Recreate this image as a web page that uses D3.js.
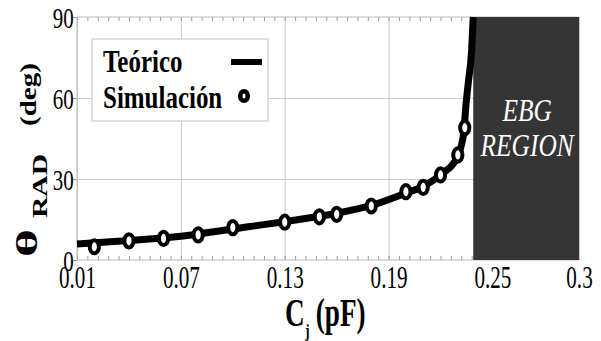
<!DOCTYPE html>
<html>
<head>
<meta charset="utf-8">
<script src="https://cdn.jsdelivr.net/npm/d3@7"></script>
<style>
  body { margin: 0; background: #fff; }
  svg { display: block; font-family: "Liberation Serif", "Times New Roman", serif; }
</style>
</head>
<body>
<div id="chart"></div>
<script>
// capacitance (pF) for the theory curve and for the simulated points
const theoCj = [0.01, 0.04, 0.07, 0.10, 0.13, 0.16, 0.18, 0.20, 0.21, 0.22, 0.23, 0.2336, 0.2345, 0.236, 0.238, 0.2389];
const theoTheta = [5.9, 7.2, 8.8, 11.5, 14.2, 17.3, 20.2, 24.8, 27.3, 31.5, 38.6, 48, 56, 65.4, 78, 90];
const simCj = [0.02, 0.04, 0.06, 0.08, 0.10, 0.13, 0.15, 0.16, 0.18, 0.20, 0.21, 0.22, 0.23, 0.234];
const simTheta = [4.9, 7.1, 8.0, 9.3, 12.0, 14.0, 16.0, 16.9, 20.0, 25.3, 26.9, 31.5, 38.9, 49.0];
const ebgRange = [0.2389, 0.3];
const xTicks = [0.01, 0.07, 0.13, 0.19, 0.25, 0.3];
const xTickLabels = ["0.01", "0.07", "0.13", "0.19", "0.25", "0.3"];
const yTicks = [0, 30, 60, 90];
const legendLabels = ["Teórico", "Simulación"];

const svg = d3.select("#chart").append("svg").attr("width", 601).attr("height", 341);

const x = d3.scaleLinear().domain([0.01, 0.3]).range([77, 579]);
const y = d3.scaleLinear().domain([0, 90]).range([260, 17]);

// grid
svg.append("g")
  .attr("transform", "translate(0,260)")
  .call(d3.axisBottom(x).tickValues(xTicks).tickSize(-243).tickFormat(""))
  .call(g => g.select(".domain").remove())
  .selectAll("line").attr("stroke", "#cacaca");

svg.append("g")
  .attr("transform", "translate(77,0)")
  .call(d3.axisLeft(y).tickValues([30, 60]).tickSize(-502).tickFormat(""))
  .call(g => g.select(".domain").remove())
  .selectAll("line").attr("stroke", "#cacaca");

// minor ticks top & bottom
const minor = d3.range(0, 49).map(i => 0.01 + i * 0.006);
svg.append("g")
  .attr("transform", "translate(0,260)")
  .call(d3.axisBottom(x).tickValues(minor).tickSize(-4).tickFormat(""))
  .call(g => g.select(".domain").remove())
  .selectAll("line").attr("stroke", "#999");
svg.append("g")
  .attr("transform", "translate(0,17)")
  .call(d3.axisTop(x).tickValues(minor).tickSize(-4).tickFormat(""))
  .call(g => g.select(".domain").remove())
  .selectAll("line").attr("stroke", "#999");

// frame
svg.append("rect")
  .attr("x", 77).attr("y", 17).attr("width", 502).attr("height", 243)
  .attr("fill", "none").attr("stroke", "#bbb");

// EBG region
svg.append("rect")
  .attr("x", x(ebgRange[0])).attr("y", y(90))
  .attr("width", x(ebgRange[1]) - x(ebgRange[0]))
  .attr("height", y(0) - y(90))
  .attr("fill", "#353535");

const ebgX = (x(ebgRange[0]) + x(ebgRange[1])) / 2;
[["EBG", 121], ["REGION", 156]].forEach(([t, by]) => {
  svg.append("text")
    .attr("transform", `translate(${ebgX + 1},${by}) scale(0.82,1)`)
    .attr("text-anchor", "middle")
    .style("font-size", "31px")
    .style("font-style", "italic")
    .attr("fill", "#fff")
    .text(t);
});

// x axis labels
const xAxis = svg.append("g")
  .attr("transform", "translate(0,260)")
  .call(d3.axisBottom(x).tickValues(xTicks).tickSize(0).tickFormat((d, i) => xTickLabels[i]));
xAxis.select(".domain").remove();
xAxis.selectAll("text")
  .attr("y", 28).attr("dy", 0)
  .attr("transform", "scale(0.66,1)")
  .attr("fill", "#000")
  .style("font-size", "32px")
  .style("font-family", "'Liberation Serif', serif");

// y axis labels
const yAxis = svg.append("g")
  .attr("transform", "translate(77,0)")
  .call(d3.axisLeft(y).tickValues(yTicks).tickSize(4).tickFormat(d3.format("d")));
yAxis.select(".domain").remove();
yAxis.selectAll("line").attr("stroke", "#999");
yAxis.selectAll("text")
  .attr("x", -4.5).attr("dy", "0.34em")
  .attr("transform", "scale(0.7,1)")
  .attr("fill", "#000")
  .style("font-size", "30px")
  .style("font-family", "'Liberation Serif', serif");

// theory curve
const theo = theoCj.map((c, i) => [c, theoTheta[i]]);
svg.append("path")
  .datum(theo)
  .attr("fill", "none")
  .attr("stroke", "#000")
  .attr("stroke-width", 7)
  .attr("d", d3.line().x(d => x(d[0])).y(d => y(d[1])).curve(d3.curveMonotoneX));

// simulation points (slightly tall rings, as in the figure)
const sim = simCj.map((c, i) => [c, simTheta[i]]);
svg.selectAll("ellipse.sim")
  .data(sim)
  .enter().append("ellipse")
  .attr("class", "sim")
  .attr("cx", d => x(d[0]))
  .attr("cy", d => y(d[1]))
  .attr("rx", 4.6)
  .attr("ry", 6.6)
  .attr("fill", "#fff")
  .attr("stroke", "#000")
  .attr("stroke-width", 4);

// legend
const lg = svg.append("g");
lg.append("rect")
  .attr("x", 92).attr("y", 39).attr("width", 176).attr("height", 82)
  .attr("fill", "#fff").attr("stroke", "#c4c4c4");
legendLabels.forEach((t, i) => {
  lg.append("text")
    .attr("transform", `translate(103,${72 + i * 36}) scale(0.78,1)`)
    .style("font-size", "32px")
    .style("font-weight", "bold")
    .text(t);
});
lg.append("line")
  .attr("x1", 231).attr("x2", 262).attr("y1", 62).attr("y2", 62)
  .attr("stroke", "#000").attr("stroke-width", 6);
lg.append("ellipse")
  .attr("cx", 244).attr("cy", 96).attr("rx", 3.8).attr("ry", 4.8)
  .attr("fill", "#fff").attr("stroke", "#000").attr("stroke-width", 4.5);

// axis titles
const xt = svg.append("text")
  .attr("transform", "translate(285,326) scale(0.68,1)")
  .style("font-weight", "bold");
xt.append("tspan").style("font-size", "40px").text("C");
xt.append("tspan").style("font-size", "19px").attr("dy", 11).attr("dx", 1).text("j");
xt.append("tspan").style("font-size", "40px").attr("dy", -11).attr("dx", 9).text("(pF)");

// y title: theta, subscript and unit placed along the left edge (start = bottom end)
const yParts = [
  { t: "θ", size: 36, bx: 37, by: 257, len: 28 },
  { t: "RAD", size: 27, bx: 47, by: 218, len: 64 },
  { t: "(deg)", size: 28, bx: 36, by: 126, len: 63 }
];
yParts.forEach(p => {
  const t = svg.append("text")
    .style("font-size", p.size + "px")
    .style("font-weight", "bold")
    .text(p.t);
  const natural = t.node().getComputedTextLength();
  t.attr("transform", `translate(${p.bx},${p.by}) scale(0.8,${p.len / natural}) rotate(-90)`);
});
</script>
</body>
</html>
